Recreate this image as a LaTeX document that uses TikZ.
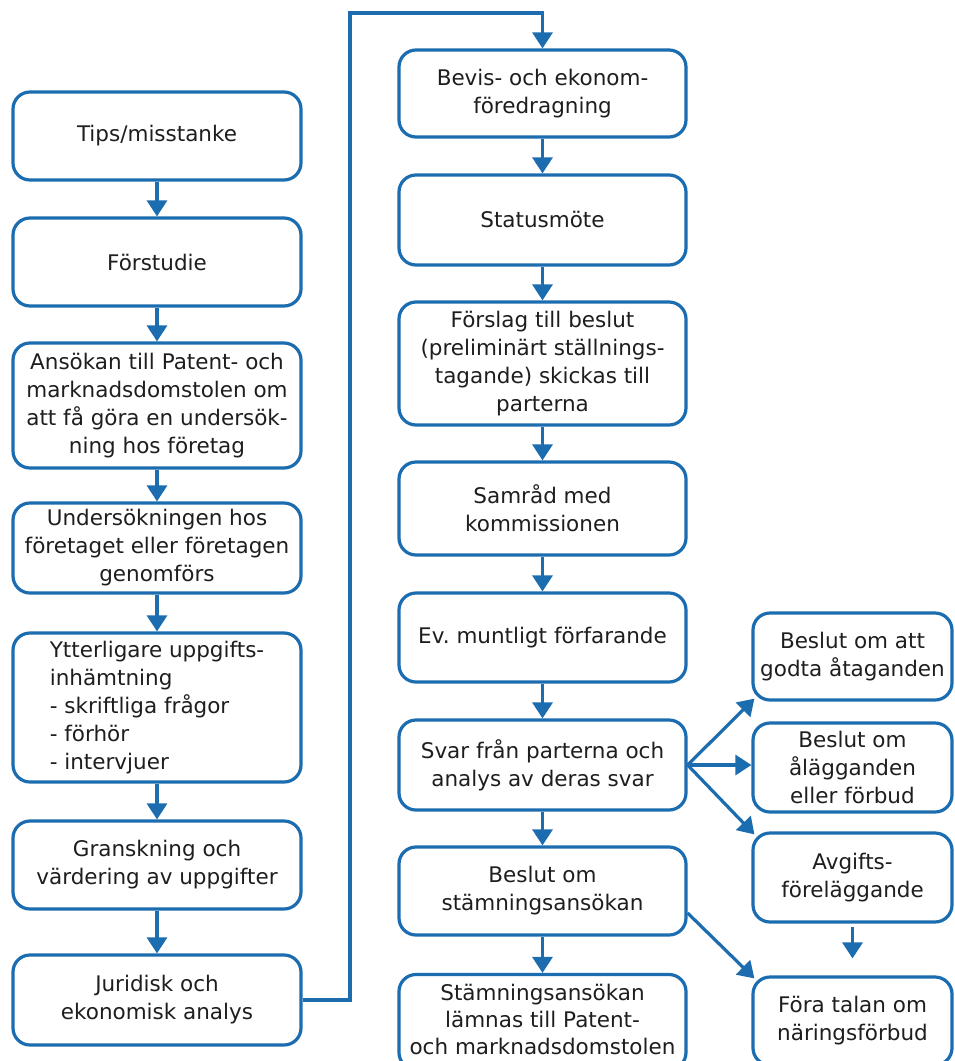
\documentclass[tikz,border=0pt]{standalone}
\usepackage{fontspec}
\setmainfont{DejaVu Sans}
\usetikzlibrary{arrows.meta,calc}
\definecolor{flowblue}{RGB}{28,108,176}
\definecolor{txt}{RGB}{30,30,30}
\frenchspacing
\tikzset{
  box/.style={draw=flowblue, line width=3.2pt, rounded corners=17pt, fill=white,
    text=txt, align=center, inner sep=2pt, font=\fontsize{21.5}{28}\selectfont},
  lbox/.style={box, minimum width=288pt},
  mbox/.style={box, minimum width=287pt},
  rbox/.style={box, minimum width=199pt},
  flow/.style={draw=flowblue, line width=3.2pt, -{Triangle[width=20pt,length=16pt]}},
}
\begin{document}
\begin{tikzpicture}[x=1pt,y=-1pt]
\useasboundingbox (0,0) rectangle (954,1061);
\clip (0,0) rectangle (954,1061);
% left column
\node[lbox, minimum height=88pt]  (tips)   at (157,136)   {Tips/misstanke};
\node[lbox, minimum height=88pt]  (forst)  at (157,262)   {Förstudie};
\node[lbox, minimum height=125pt] (ansok)  at (157,405.5) {Ansökan till Patent- och\\marknadsdomstolen om\\att få göra en undersök-\\ning hos företag};
\node[lbox, minimum height=90pt]  (under)  at (157,548)   {Undersökningen hos\\företaget eller företagen\\genomförs};
\node[lbox, minimum height=149pt, align=left] (ytter) at (157,707.5) {Ytterligare uppgifts-\\inhämtning\\- skriftliga frågor\\- förhör\\- intervjuer};
\node[lbox, minimum height=88pt]  (gransk) at (157,865)   {Granskning och\\värdering av uppgifter};
\node[lbox, minimum height=90pt]  (jur)    at (157,1000)  {Juridisk och\\ekonomisk analys};
% middle column
\node[mbox, minimum height=87pt]  (bevis)   at (542.5,93.5)  {Bevis- och ekonom-\\föredragning};
\node[mbox, minimum height=90pt]  (status)  at (542.5,220)   {Statusmöte};
\node[mbox, minimum height=123pt] (forslag) at (542.5,363.5) {Förslag till beslut\\(preliminärt ställnings-\\tagande) skickas till\\parterna};
\node[mbox, minimum height=93pt]  (samrad)  at (542.5,508.5) {Samråd med\\kommissionen};
\node[mbox, minimum height=89pt]  (ev)      at (542.5,637.5) {Ev. muntligt förfarande};
\node[mbox, minimum height=90pt]  (svar)    at (542.5,765)   {Svar från parterna och\\analys av deras svar};
\node[mbox, minimum height=88pt]  (bstam)   at (542.5,891)   {Beslut om\\stämningsansökan};
\node[mbox, minimum height=95pt]  (stam)    at (542.5,1022)  {};
\node[text=txt, align=center, inner sep=0pt, font=\fontsize{21.5}{27}\selectfont] (stamtxt) at (542.5,1019) {Stämningsansökan\\lämnas till Patent-\\och marknadsdomstolen};
% right column
\node[rbox, minimum height=87pt] (godta) at (852.5,656.5) {Beslut om att\\godta åtaganden};
\node[rbox, minimum height=89pt] (alagg) at (852.5,767.5) {Beslut om\\ålägganden\\eller förbud};
\node[rbox, minimum height=89pt] (avg)   at (852.5,877.5) {Avgifts-\\föreläggande};
\node[rbox, minimum height=88pt] (fora)  at (852.5,1021)  {Föra talan om\\näringsförbud};
% vertical flow
\draw[flow] (tips) -- (forst);
\draw[flow] (forst) -- (ansok);
\draw[flow] (ansok) -- (under);
\draw[flow] (under) -- (ytter);
\draw[flow] (ytter) -- (gransk);
\draw[flow] (gransk) -- (jur);
\draw[flow] (bevis) -- (status);
\draw[flow] (status) -- (forslag);
\draw[flow] (forslag) -- (samrad);
\draw[flow] (samrad) -- (ev);
\draw[flow] (ev) -- (svar);
\draw[flow] (svar) -- (bstam);
\draw[flow] (bstam) -- (stam);
% loop from left column to middle column
\coordinate (looptop) at (350,13);
\draw[flow] (jur.east) -| (looptop) -| (bevis.north);
% branches
\draw[flow] (svar.east) -- ($(godta.south west)+(3,-3)$);
\draw[flow] (svar.east) -- (svar.east -| alagg.west);
\draw[flow] (svar.east) -- ($(avg.north west)+(3,3)$);
\draw[flow] ($(bstam.east)+(0,22)$) -- ($(fora.north west)+(3,3)$);
\draw[flow, shorten <=3pt, shorten >=17pt] (avg) -- (fora);
\end{tikzpicture}
\end{document}
